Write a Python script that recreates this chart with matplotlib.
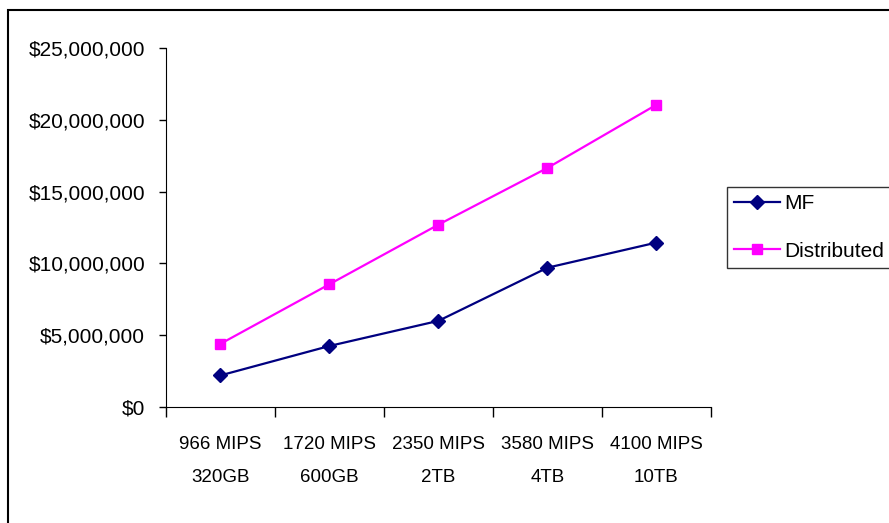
import numpy as np
import matplotlib.pyplot as plt
from matplotlib.patches import Rectangle

plt.rcParams['font.family'] = ['Liberation Sans', 'DejaVu Sans']

# datos
categorias = ['966 MIPS\n320GB', '1720 MIPS\n600GB', '2350 MIPS\n2TB',
              '3580 MIPS\n4TB', '4100 MIPS\n10TB']
mf = [2200000, 4250000, 6000000, 9700000, 11450000]
distribuido = [4400000, 8550000, 12700000, 16650000, 21050000]
yticks = [0, 5000000, 10000000, 15000000, 20000000, 25000000]

fig = plt.figure(figsize=(8.89, 5.23), dpi=100)
ax = fig.add_axes([0.1867, 0.2218, 0.613, 0.6864])

x = np.arange(len(categorias))
ax.plot(x, mf, color='#000080', lw=1.6, marker='D', ms=7.5, label='MF')
ax.plot(x, distribuido, color='#FF00FF', lw=1.6, marker='s', ms=7,
        label='Distributed')

ax.set_xlim(-0.5, len(categorias) - 0.5)
ax.set_ylim(0, 25000000)
ax.set_yticks(yticks)
ax.set_yticklabels(['${:,}'.format(v) for v in yticks])
ax.set_xticks(np.arange(-0.5, len(categorias), 1.0))
ax.set_xticklabels([])
ax.set_xticks(x, minor=True)
ax.set_xticklabels(categorias, minor=True, linespacing=2.25)
ax.tick_params(axis='x', which='minor', length=0, pad=21, labelsize=13.5)
ax.tick_params(axis='x', which='major', length=7, width=1, direction='out')
ax.tick_params(axis='y', length=5, width=1, direction='out', pad=10,
               labelsize=15)
for s in ['top', 'right']:
    ax.spines[s].set_visible(False)

leg = fig.legend(loc='center left', bbox_to_anchor=(0.8178, 0.565),
                 fontsize=15, frameon=True, fancybox=False, edgecolor='black',
                 handlelength=2.2, borderpad=0.35, labelspacing=1.35,
                 handletextpad=0.2, borderaxespad=0)
leg.get_frame().set_linewidth(1.0)

# marco de la figura
fig.patches.append(Rectangle((0.009, -0.05), 1.2, 0.04 + 0.9904,
                             transform=fig.transFigure, fill=False,
                             edgecolor='black', lw=1.5))

fig.savefig('out.png', dpi=100)
